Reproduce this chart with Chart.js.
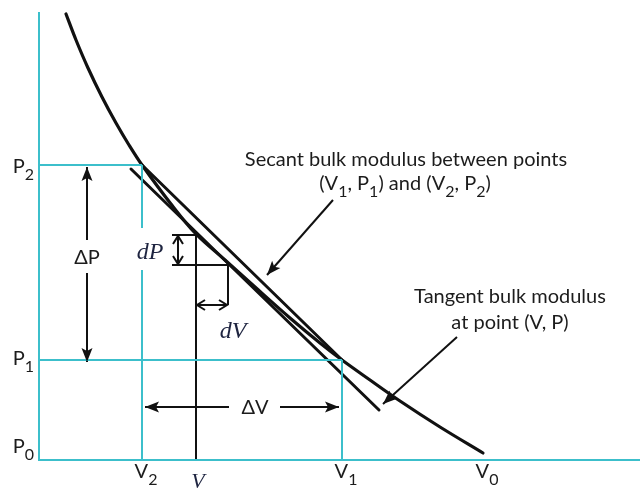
<!DOCTYPE html>
<html>
<head>
<meta charset="utf-8">
<title>Secant and tangent bulk modulus</title>
<script src="https://cdn.jsdelivr.net/npm/chart.js@4.4.1/dist/chart.umd.min.js"></script>
<style>
  html, body { margin: 0; padding: 0; background: #fff; }
</style>
</head>
<body>
<canvas id="pv" width="640" height="491"></canvas>
<script>
// ── P-V curve (arbitrary units) ───────────────────────────
const curveV = [2.7, 3.7, 4.9, 6.3, 7.7, 9.0, 10.3, 13.2, 15.7, 18.6, 21.6, 25.1, 28.1, 30.3, 33.1, 36.1, 40.1, 44.4];
const curveP = [44.6, 42.0, 39.2, 36.3, 33.7, 31.5, 29.5, 25.6, 22.6, 20.0, 17.3, 14.2, 11.7, 10.0, 8.0, 5.9, 3.3, 0.7];

// named states on the axes
const volNames = ['V_2', 'V', 'V_1', 'V_0'];
const volTicks = [10.3, 15.7, 30.3, 44.4];
const presNames = ['P_2', 'P_1', 'P_0'];
const presTicks = [29.5, 10.0, 0];

// tangent line at (V, P)
const tangentV = [9.2, 34.0];
const tangentP = [29.1, 5.0];

// small increments around (V, P)
const dPtop = 22.5, dPbottom = 19.5;
const dVright = 18.9;

const [V2, V, V1, V0] = volTicks;
const [P2, P1, P0] = presTicks;
const xMax = 60.1, yMax = 46;

const CYAN = '#3cbfcb';
const INK = '#111';
const TEXT = '#1c1c1c';
const MATH = '#1e2440';

// ── helpers ──────────────────────────────────────────────
const pts = (xs, ys) => xs.map((x, i) => [x, ys[i]]);

function seg(points, color, width, extra = {}) {
    return Object.assign({
        data: points.map(([x, y]) => ({ x, y })),
        showLine: true,
        borderColor: color,
        borderWidth: width,
        pointRadius: 0,
        clip: false
    }, extra);
}

// arrow datasets: head drawn at the last point ('end') or both ends
function arrow(points, head, style = 'filled') {
    return seg(points, INK, 2, { arrow: head, headStyle: style, borderCapStyle: 'butt' });
}

// ── text with single-char subscripts written as X_1 ──────
function drawRich(ctx, str, x, y, size, family, align, color, style = '') {
    const parts = str.split(/_(.)/);
    const subSize = Math.round(size * 0.78);
    const fMain = `${style} ${size}px ${family}`;
    const fSub = `${style} ${subSize}px ${family}`;
    let w = 0;
    parts.forEach((p, i) => {
        ctx.font = i % 2 ? fSub : fMain;
        w += ctx.measureText(p).width;
    });
    let cx = align === 'center' ? x - w / 2 : align === 'right' ? x - w : x;
    ctx.fillStyle = color;
    ctx.textAlign = 'left';
    ctx.textBaseline = 'alphabetic';
    parts.forEach((p, i) => {
        ctx.font = i % 2 ? fSub : fMain;
        ctx.fillText(p, cx, i % 2 ? y + size * 0.36 : y);
        cx += ctx.measureText(p).width;
    });
}

// ── annotations (data units for anchors) ────────────────
const notes = [
    { x: 36.7, y: 29.4, text: 'Secant bulk modulus between points', size: 20 },
    { x: 36.6, y: 27.0, text: '(V_1, P_1) and (V_2, P_2)', size: 20 },
    { x: 47.1, y: 15.7, text: 'Tangent bulk modulus', size: 20 },
    { x: 47.1, y: 13.1, text: 'at point (V, P)', size: 20 },
    { x: 4.8, y: 19.6, text: 'ΔP', size: 20 },
    { x: 21.6, y: 4.6, text: 'ΔV', size: 20 },
    { x: 11.1, y: 20.1, text: 'dP', size: 24, math: true },
    { x: 19.4, y: 12.2, text: 'dV', size: 24, math: true }
];

const presDy = [8, 5, -7];

const overlay = {
    id: 'overlay',
    afterDatasetsDraw(chart) {
        const { ctx, scales: { x, y } } = chart;
        ctx.save();

        // arrowheads
        chart.data.datasets.forEach((ds, i) => {
            if (!ds.arrow) return;
            const el = chart.getDatasetMeta(i).data;
            const ends = ds.arrow === 'both' ? [[el.length - 1, el.length - 2], [0, 1]] : [[el.length - 1, el.length - 2]];
            ends.forEach(([a, b]) => {
                const tip = el[a], from = el[b];
                const ang = Math.atan2(tip.y - from.y, tip.x - from.x);
                ctx.save();
                ctx.translate(tip.x, tip.y);
                ctx.rotate(ang);
                ctx.beginPath();
                if (ds.headStyle === 'open') {
                    ctx.moveTo(-8, -5);
                    ctx.lineTo(0, 0);
                    ctx.lineTo(-8, 5);
                    ctx.strokeStyle = INK;
                    ctx.lineWidth = 2;
                    ctx.stroke();
                } else {
                    ctx.moveTo(0, 0);
                    ctx.lineTo(-14, -5.5);
                    ctx.lineTo(-11, 0);
                    ctx.lineTo(-14, 5.5);
                    ctx.closePath();
                    ctx.fillStyle = INK;
                    ctx.fill();
                }
                ctx.restore();
            });
        });

        // axis names
        presNames.forEach((n, i) => {
            drawRich(ctx, n, x.left - 5, y.getPixelForValue(presTicks[i]) + presDy[i], 20, 'Lato', 'right', TEXT);
        });
        volNames.forEach((n, i) => {
            const px = x.getPixelForValue(volTicks[i]) + 2;
            if (n === 'V') {
                drawRich(ctx, n, px, 488, 22, '"Liberation Serif"', 'center', MATH, 'italic');
            } else {
                drawRich(ctx, n, px + 2, 478, 20, 'Lato', 'center', TEXT);
            }
        });

        // notes
        notes.forEach(n => {
            const fam = n.math ? '"Liberation Serif"' : 'Lato';
            drawRich(ctx, n.text, x.getPixelForValue(n.x), y.getPixelForValue(n.y), n.size, fam, 'center',
                n.math ? MATH : TEXT, n.math ? 'italic' : '');
        });
        ctx.restore();
    }
};

const datasets = [
    // frame and guide lines
    seg([[0, 44.8], [0, 0], [xMax, 0]], CYAN, 2),
    seg([[0, P2], [V2, P2]], CYAN, 2),
    seg([[0, P1], [V1, P1]], CYAN, 2),
    seg([[V2, P2], [V2, 23.2]], CYAN, 2),
    seg([[V2, 19.0], [V2, 0]], CYAN, 2),
    seg([[V1, P1], [V1, 0]], CYAN, 2),

    // (V, P) construction
    seg([[V, 0], [V, dPtop]], INK, 2),
    seg([[13.3, dPtop], [V, dPtop]], INK, 2),
    seg([[13.3, dPbottom], [dVright, dPbottom], [dVright, 15.5]], INK, 2),
    arrow([[13.9, dPtop - 0.1], [13.9, dPbottom + 0.1]], 'both', 'open'),
    arrow([[V + 0.1, 15.5], [dVright - 0.1, 15.5]], 'both', 'open'),

    // finite differences
    arrow([[4.8, 22.0], [4.8, P2 - 0.2]], 'end'),
    arrow([[4.8, 18.7], [4.8, P1 - 0.2]], 'end'),
    arrow([[19.0, 5.3], [V2 + 0.3, 5.3]], 'end'),
    arrow([[24.1, 5.3], [V1 - 0.3, 5.3]], 'end'),

    // callouts
    arrow([[29.4, 26.0], [22.8, 18.5]], 'end'),
    arrow([[41.8, 12.3], [34.4, 5.6]], 'end'),

    // tangent, secant, curve
    seg(pts(tangentV, tangentP), INK, 3, { borderCapStyle: 'round' }),
    seg([[V2, P2], [V1, P1]], INK, 3, { borderCapStyle: 'round' }),
    seg(pts(curveV, curveP), INK, 3.2, { tension: 0.35, borderCapStyle: 'round', borderJoinStyle: 'round' })
];

new Chart(document.getElementById('pv'), {
    type: 'scatter',
    data: { datasets },
    options: {
        responsive: false,
        devicePixelRatio: 1,
        animation: false,
        layout: { padding: { left: 39, right: 0, top: 0, bottom: 31 } },
        scales: {
            x: { type: 'linear', min: 0, max: xMax, display: false },
            y: { type: 'linear', min: 0, max: yMax, display: false }
        },
        plugins: {
            legend: { display: false },
            tooltip: { enabled: false }
        }
    },
    plugins: [overlay]
});
</script>
</body>
</html>
